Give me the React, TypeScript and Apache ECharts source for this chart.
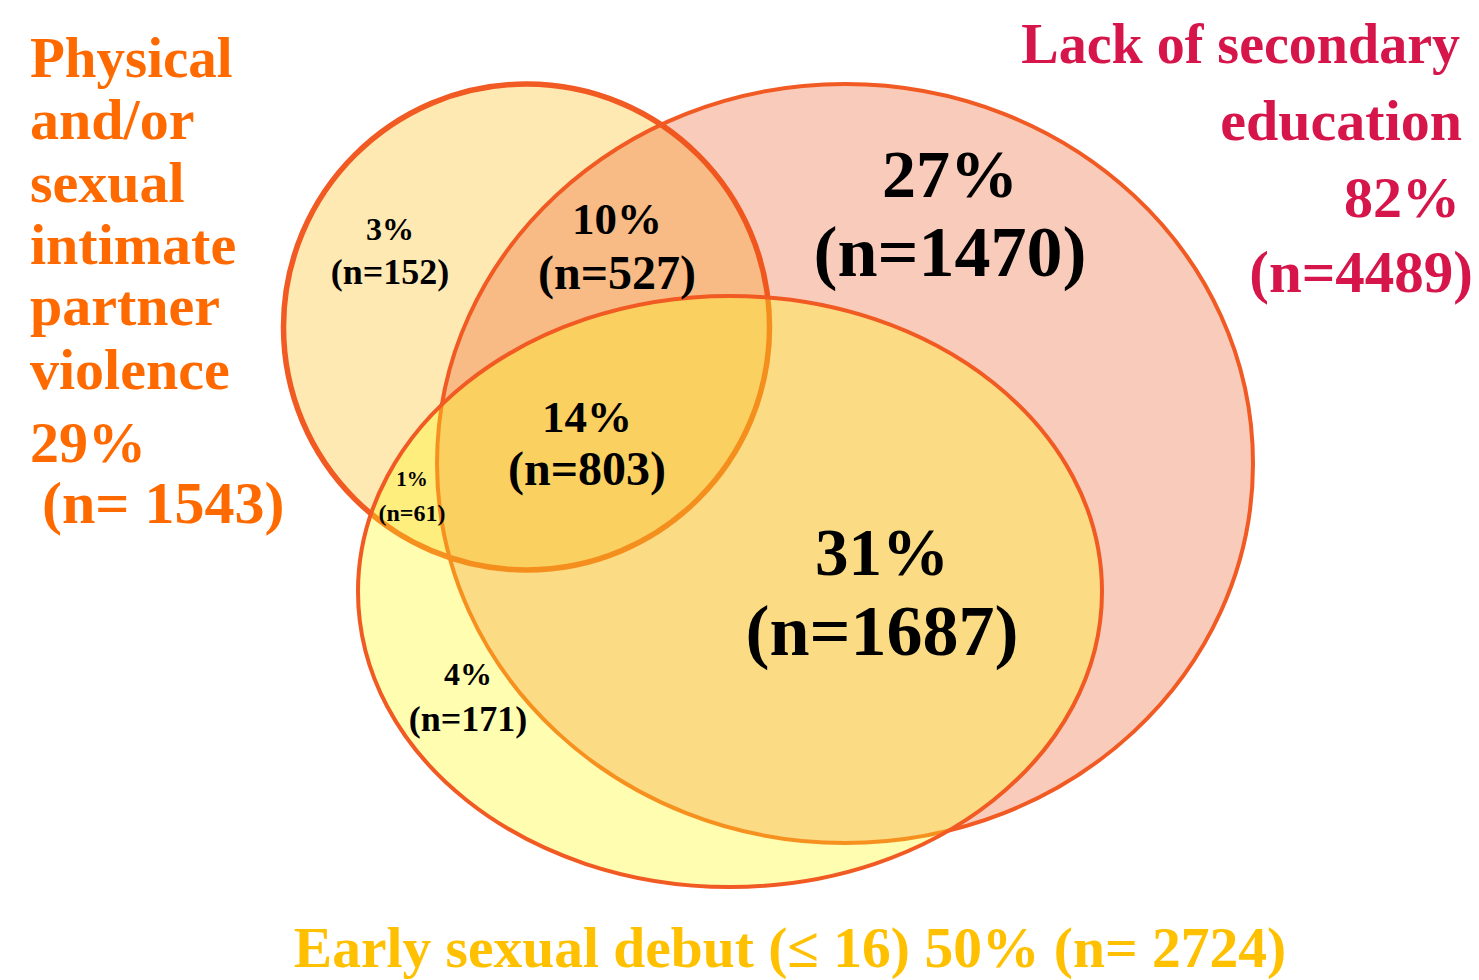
import React, { useEffect, useRef } from "react";
import * as echarts from "echarts";

// ---- data ----
const setNames = [
  "Physical and/or sexual intimate partner violence",
  "Lack of secondary education",
  "Early sexual debut (≤ 16)",
];
const setPct = [29, 82, 50];
const setN = [1543, 4489, 2724];

const regionNames = [
  "Violence only",
  "Violence & education",
  "Education only",
  "All three",
  "Violence & debut",
  "Education & debut",
  "Debut only",
];
const regionPct = [3, 10, 27, 14, 1, 31, 4];
const regionN = [152, 527, 1470, 803, 61, 1687, 171];

// ---- layout (chart units) ----
const ellipseLayout = [
  { cx: 526.5, cy: 327, rx: 243, ry: 243 },
  { cx: 845, cy: 463.5, rx: 408, ry: 379.5 },
  { cx: 730, cy: 591.5, rx: 372, ry: 295.5 },
];
const ellipseFill = ["#FEE9B3", "rgba(235,82,28,0.3)", "rgba(255,249,29,0.35)"];
const ellipseStroke = "#F15A22";
const ellipseWidth = [5.5, 4, 4];

const regionLayout = [
  { x: 390, y1: 229, y2: 272, s1: 32, s2: 36 },
  { x: 617, y1: 219, y2: 272, s1: 45, s2: 48 },
  { x: 950, y1: 174, y2: 252, s1: 68, s2: 72 },
  { x: 587, y1: 417, y2: 468, s1: 45, s2: 48 },
  { x: 412, y1: 479, y2: 513, s1: 21, s2: 24 },
  { x: 882, y1: 552, y2: 631, s1: 67, s2: 72 },
  { x: 468, y1: 674, y2: 719, s1: 32, s2: 36 },
];

const FONT = "'Liberation Serif', 'Times New Roman', serif";

export default function App() {
  const ref = useRef<HTMLDivElement>(null);

  useEffect(() => {
    document.body.style.margin = "0";
    const chart = echarts.init(ref.current!, undefined, { renderer: "svg" });

    const leftLines = [
      ...setNames[0].split(" "),
      `${setPct[0]}%`,
      `(n= ${setN[0]})`,
    ];
    const leftY = [57, 119, 182, 244, 305, 369, 442, 503];
    const leftX = [30, 30, 30, 30, 30, 30, 30, 42];
    const leftSize = [57, 58, 58, 58, 58, 58, 58, 60];

    const rightLines = [
      "Lack of secondary",
      "education",
      `${setPct[1]}%`,
      `(n=${setN[1]})`,
    ];
    const rightY = [44, 120, 197, 272];
    const rightX = [1460, 1462, 1460, 1473];
    const rightSize = [56, 58, 58, 59];

    const graphics: any[] = [];
    leftLines.forEach((t, i) => {
      graphics.push({
        type: "text",
        x: leftX[i],
        y: leftY[i],
        style: {
          text: t,
          fill: "#FF6A00",
          font: `bold ${leftSize[i]}px ${FONT}`,
          textAlign: "left",
          textVerticalAlign: "middle",
        },
      });
    });
    rightLines.forEach((t, i) => {
      graphics.push({
        type: "text",
        x: rightX[i],
        y: rightY[i],
        style: {
          text: t,
          fill: "#D6164A",
          font: `bold ${rightSize[i]}px ${FONT}`,
          textAlign: "right",
          textVerticalAlign: "middle",
        },
      });
    });
    graphics.push({
      type: "text",
      x: 790,
      y: 948,
      scaleX: 1.027,
      style: {
        text: `${setNames[2]} ${setPct[2]}% (n= ${setN[2]})`,
        fill: "#FFC000",
        font: `bold 56px ${FONT}`,
        textAlign: "center",
        textVerticalAlign: "middle",
      },
    });

    chart.setOption({
      animation: false,
      grid: { left: 0, right: 0, top: 0, bottom: 0 },
      xAxis: { type: "value", min: 0, max: 1479, show: false },
      yAxis: { type: "value", min: 0, max: 980, inverse: true, show: false },
      graphic: graphics,
      series: [
        {
          type: "custom",
          name: "sets",
          clip: false,
          data: ellipseLayout.map((e, i) => [e.cx, e.cy, e.rx, e.ry, i, setPct[i]]),
          renderItem: (params: any, api: any) => {
            const i = api.value(4);
            const c = api.coord([api.value(0), api.value(1)]);
            const s = api.size([api.value(2), api.value(3)]);
            return {
              type: "ellipse",
              shape: { cx: c[0], cy: c[1], rx: s[0], ry: s[1] },
              style: {
                fill: ellipseFill[i],
                stroke: ellipseStroke,
                lineWidth: ellipseWidth[i],
              },
            };
          },
          z: 1,
        },
        {
          type: "custom",
          name: "regions",
          clip: false,
          data: regionLayout.map((r, i) => [r.x, r.y1, r.y2, i, regionPct[i], regionN[i]]),
          renderItem: (params: any, api: any) => {
            const i = api.value(3);
            const p1 = api.coord([api.value(0), api.value(1)]);
            const p2 = api.coord([api.value(0), api.value(2)]);
            const L = regionLayout[i];
            return {
              type: "group",
              children: [
                {
                  type: "text",
                  x: p1[0],
                  y: p1[1],
                  style: {
                    text: `${regionPct[i]}%`,
                    fill: "#000",
                    font: `bold ${L.s1}px ${FONT}`,
                    textAlign: "center",
                    textVerticalAlign: "middle",
                  },
                },
                {
                  type: "text",
                  x: p2[0],
                  y: p2[1],
                  style: {
                    text: `(n=${regionN[i]})`,
                    fill: "#000",
                    font: `bold ${L.s2}px ${FONT}`,
                    textAlign: "center",
                    textVerticalAlign: "middle",
                  },
                },
              ],
            };
          },
          z: 2,
        },
      ],
    });

    return () => chart.dispose();
  }, []);

  return <div ref={ref} style={{ width: 1479, height: 980 }} />;
}
